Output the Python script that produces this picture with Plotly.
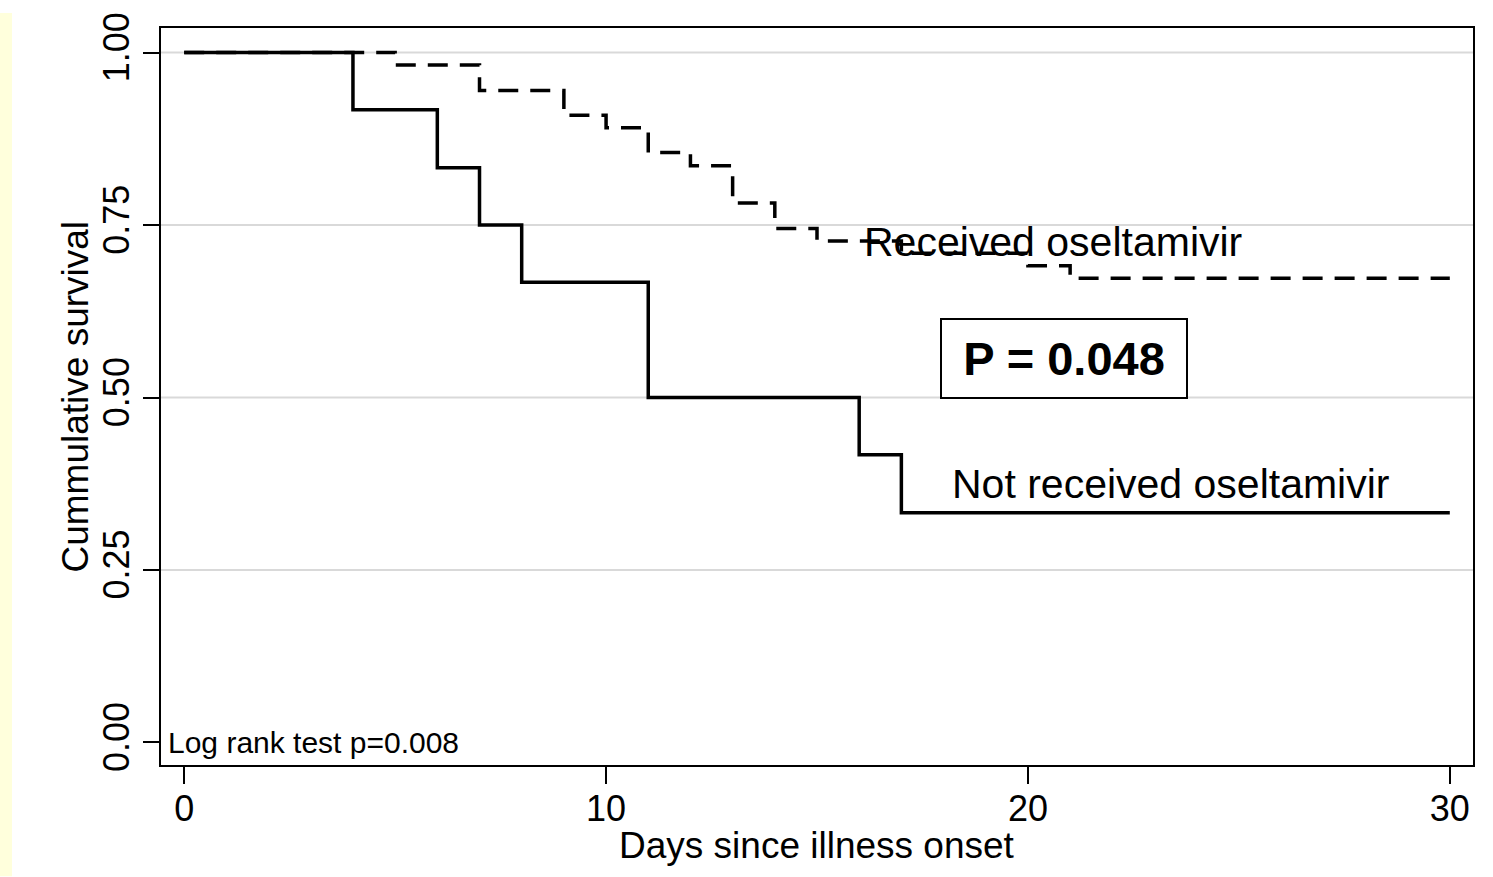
import plotly.graph_objects as go

# ---- data ----
recv_days = [0, 5, 7, 9, 10, 11, 12, 13, 14, 15, 17, 20, 21, 30]
recv_surv = [1.0, 0.982, 0.945, 0.909, 0.891, 0.855, 0.836, 0.782, 0.745, 0.727, 0.709, 0.691, 0.673, 0.673]

notrecv_days = [0, 4, 6, 7, 8, 11, 16, 17, 30]
notrecv_surv = [1.0, 0.917, 0.833, 0.75, 0.667, 0.5, 0.417, 0.333, 0.333]

x_ticks = [0, 10, 20, 30]
y_ticks = [0.0, 0.25, 0.5, 0.75, 1.0]
y_tick_labels = ["0.00", "0.25", "0.50", "0.75", "1.00"]
grid_vals = [0.25, 0.5, 0.75, 1.0]

FONT = "Arial, Liberation Sans, Helvetica, sans-serif"
W, H = 1493, 877
ML, MR, MT, MB = 161, 20, 23, 112
pw = W - ML - MR
ph = H - MT - MB

fig = go.Figure()
fig.add_trace(go.Scatter(
    x=recv_days, y=recv_surv, mode="lines", line_shape="hv",
    line=dict(color="black", width=3.5, dash="20px,12px"),
    name="Received oseltamivir", showlegend=False, hoverinfo="skip"))
fig.add_trace(go.Scatter(
    x=notrecv_days, y=notrecv_surv, mode="lines", line_shape="hv",
    line=dict(color="black", width=3.5),
    name="Not received oseltamivir", showlegend=False, hoverinfo="skip"))

shapes = []
for g in grid_vals:
    shapes.append(dict(type="line", xref="paper", x0=0, x1=1, yref="y", y0=g, y1=g,
                       line=dict(color="#d9d9d9", width=2), layer="below"))
# pale yellow strip at left edge of slide
shapes.append(dict(type="rect", xref="paper", yref="paper",
                   x0=-ML / pw, x1=(12 - ML) / pw,
                   y0=-MB / ph, y1=(H - MT - 97) / ph,
                   fillcolor="#FFFFDC", line=dict(width=0), layer="below"))

annotations = [
    dict(x=16.07, y=0.726, xref="x", yref="y", text="Received oseltamivir",
         showarrow=False, xanchor="left", yanchor="middle",
         font=dict(family=FONT, size=41, color="black")),
    dict(x=18.15, y=0.374, xref="x", yref="y", text="Not received oseltamivir",
         showarrow=False, xanchor="left", yanchor="middle",
         font=dict(family=FONT, size=41, color="black")),
    dict(x=20.86, y=0.556, xref="x", yref="y", text="<b>P = 0.048</b>",
         showarrow=False, xanchor="center", yanchor="middle",
         width=244, height=77, borderpad=0, borderwidth=2,
         bordercolor="black", bgcolor="white",
         font=dict(family=FONT, size=47, color="black")),
    dict(x=-0.42, y=0.0, xref="x", yref="y", text="Log rank test p=0.008",
         showarrow=False, xanchor="left", yanchor="middle",
         font=dict(family=FONT, size=30, color="black")),
    # axis titles
    dict(x=(75 - ML) / pw, y=0.5, xref="paper", yref="paper",
         text="Cummulative survival", textangle=-90, showarrow=False,
         xanchor="center", yanchor="middle",
         font=dict(family=FONT, size=37, color="black")),
    dict(x=0.5, y=-(846 - (H - MB)) / ph, xref="paper", yref="paper",
         text="Days since illness onset", showarrow=False,
         xanchor="center", yanchor="middle",
         font=dict(family=FONT, size=37, color="black")),
]

fig.update_layout(
    width=W, height=H,
    margin=dict(l=ML, r=MR, t=MT, b=MB, pad=0),
    paper_bgcolor="white", plot_bgcolor="white",
    font=dict(family=FONT, color="black"),
    shapes=shapes, annotations=annotations,
    xaxis=dict(range=[-0.55, 30.55], tickvals=x_ticks,
               ticks="outside", ticklen=17, tickwidth=2, tickcolor="black",
               showline=True, mirror=True, linecolor="black", linewidth=2,
               showgrid=False, zeroline=False,
               tickfont=dict(family=FONT, size=36, color="black"),
               ticklabelstandoff=-6),
    yaxis=dict(range=[-0.0327, 1.0356], tickvals=y_ticks, ticktext=y_tick_labels,
               ticks="outside", ticklen=16, tickwidth=2, tickcolor="black",
               tickangle=-90,
               showline=True, mirror=True, linecolor="black", linewidth=2,
               showgrid=False, zeroline=False,
               tickfont=dict(family=FONT, size=36, color="black"),
               ticklabelstandoff=0),
)

fig.write_html("out.html",
               config={"displayModeBar": False},
               post_script="document.body.style.margin='0';document.body.style.padding='0';")
